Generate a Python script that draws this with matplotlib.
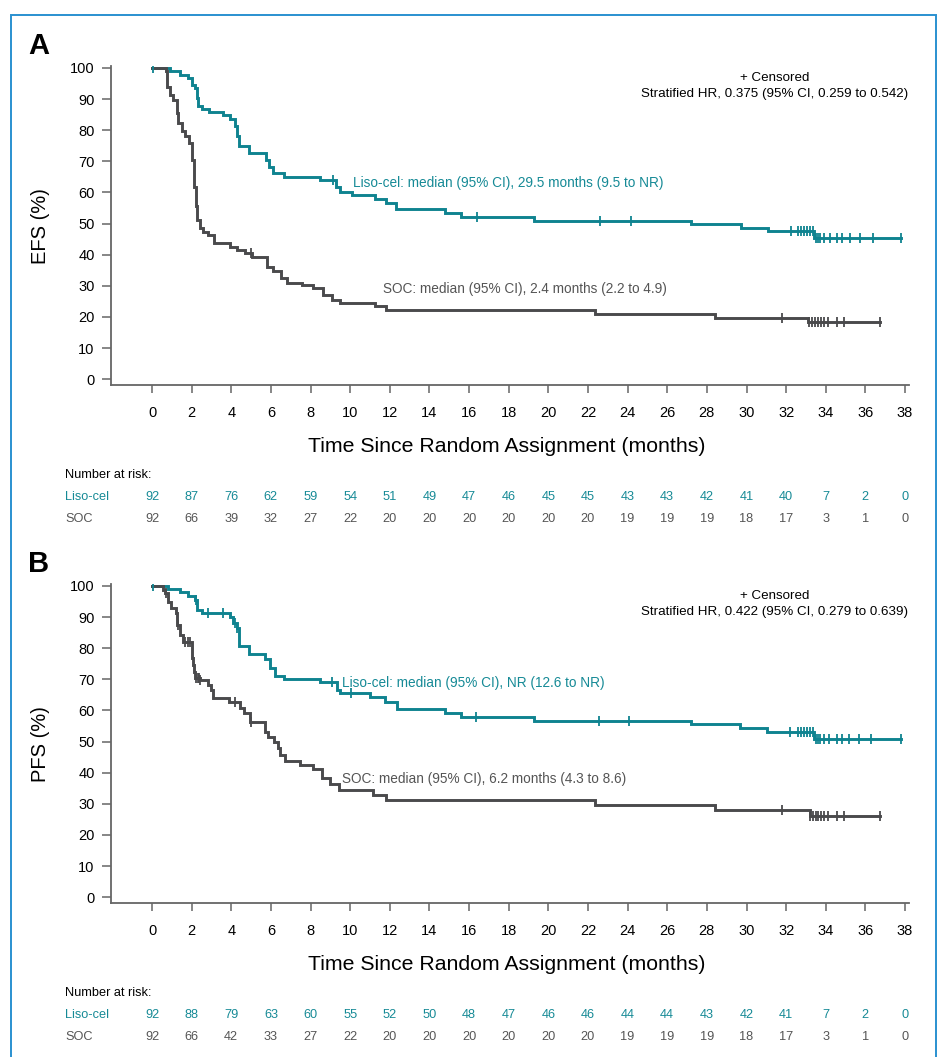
"""Kaplan-Meier style EFS / PFS panels with number-at-risk tables."""
import numpy as np
import matplotlib
matplotlib.use("Agg")
import matplotlib.pyplot as plt
from matplotlib import font_manager
from matplotlib.patches import Rectangle
from matplotlib.transforms import blended_transform_factory

_names = {f.name for f in font_manager.fontManager.ttflist}
SANS = "Liberation Sans" if "Liberation Sans" in _names else "DejaVu Sans"
plt.rcParams["font.family"] = [SANS, "DejaVu Sans"]

TEAL = "#0f8390"
TEAL_TXT = "#168a96"
GREY = "#4a4a4c"
GREY_TXT = "#555555"
AXIS = "#666666"
BORDER = "#2a90d0"

# ---- data ----
risk_times = list(range(0, 39, 2))

# Panel A: EFS
efs_liso_t = [0, 0.9, 1.4, 1.83, 2.0, 2.17, 2.25, 2.34, 2.54, 2.87, 3.6, 3.93, 4.18, 4.3,
              4.4, 4.9, 5.73, 5.9, 6.1, 6.65, 8.47, 9.3, 9.48, 10.07, 11.24, 11.83, 12.3,
              14.8, 15.6, 19.28, 27.21, 29.72, 31.08, 33.4]
efs_liso_s = [100, 98.9, 97.8, 96.8, 94.6, 93.5, 90.3, 87.9, 86.9, 85.8, 84.8, 83.7, 81.2, 78.0,
              74.8, 72.6, 70.5, 68.3, 66.2, 65.1, 63.9, 61.9, 60.3, 59.2, 57.9, 56.5, 54.7,
              53.3, 52.2, 50.9, 50.0, 48.7, 47.5, 45.3]
efs_liso_cens = [0.05, 9.14, 16.39, 22.59, 24.15, 32.27, 32.6, 32.75, 32.9, 33.05, 33.2, 33.35,
                 33.5, 33.62, 33.72, 33.89, 34.23, 34.56, 34.82, 35.21, 35.72, 36.4, 37.79]

efs_soc_t = [0, 0.69, 0.74, 0.91, 1.08, 1.24, 1.33, 1.5, 1.66, 1.87, 2.0, 2.12, 2.2, 2.29,
             2.42, 2.59, 2.84, 3.14, 3.93, 4.27, 4.69, 5.03, 5.78, 6.1, 6.52, 6.79, 7.55,
             8.13, 8.64, 9.06, 9.48, 11.24, 11.83, 22.33, 28.42, 33.12]
efs_soc_s = [100, 98.9, 93.9, 91.4, 89.8, 85.5, 82.3, 79.6, 78.0, 75.9, 70.5, 61.9, 55.5, 51.2,
             48.5, 47.4, 46.4, 43.7, 42.6, 41.5, 40.5, 39.2, 36.2, 34.9, 32.4, 31.0, 30.3,
             29.2, 27.0, 25.6, 24.4, 23.5, 22.2, 20.9, 19.7, 18.4]
efs_soc_cens = [4.99, 31.8, 33.15, 33.3, 33.45, 33.6, 33.75, 33.9, 34.1, 34.56, 34.9, 36.74]

efs_liso_risk = [92, 87, 76, 62, 59, 54, 51, 49, 47, 46, 45, 45, 43, 43, 42, 41, 40, 7, 2, 0]
efs_soc_risk = [92, 66, 39, 32, 27, 22, 20, 20, 20, 20, 20, 20, 19, 19, 19, 18, 17, 3, 1, 0]

# Panel B: PFS
pfs_liso_t = [0, 0.82, 1.41, 1.83, 2.17, 2.29, 2.54, 3.93, 4.1, 4.27, 4.39, 4.9, 5.7, 5.95,
              6.2, 6.65, 8.47, 9.32, 9.49, 11.0, 11.75, 12.34, 14.8, 15.6, 19.28, 27.19,
              29.69, 31.05, 33.4]
pfs_liso_s = [100, 98.9, 97.9, 96.8, 95.5, 92.3, 91.2, 90.1, 88.0, 86.4, 80.7, 78.2, 76.4, 73.6,
              71.1, 70.1, 69.0, 66.6, 65.5, 64.2, 62.8, 60.5, 59.1, 58.0, 56.6, 55.6,
              54.3, 53.0, 50.9]
pfs_liso_cens = [0.05, 2.2, 2.84, 3.6, 4.19, 4.3, 9.07, 10.04, 16.36, 22.54, 24.08, 32.19, 32.6,
                 32.75, 32.9, 33.05, 33.2, 33.35, 33.5, 33.62, 33.72, 33.89, 34.17, 34.56,
                 34.82, 35.16, 35.7, 36.3, 37.79]

pfs_soc_t = [0, 0.57, 0.66, 0.82, 0.96, 1.19, 1.27, 1.41, 1.58, 2.0, 2.08, 2.12, 2.17, 2.42,
             2.84, 2.96, 3.1, 3.9, 4.44, 4.66, 4.94, 5.7, 5.84, 6.17, 6.34, 6.46, 6.71,
             7.47, 8.11, 8.56, 8.98, 9.43, 11.16, 11.8, 22.33, 28.42, 33.2]
pfs_soc_s = [100, 98.7, 97.6, 95.0, 92.8, 91.2, 87.5, 84.3, 82.1, 76.8, 74.6, 72.5, 70.3, 69.8,
             68.2, 66.6, 63.9, 62.8, 60.7, 59.3, 56.4, 53.2, 51.4, 49.7, 47.9, 45.7, 43.9,
             42.5, 41.1, 38.2, 36.3, 34.5, 32.9, 31.3, 29.7, 28.1, 26.2]
pfs_soc_cens = [0.7, 1.33, 1.66, 1.83, 1.92, 2.22, 2.3, 2.36, 2.42, 4.19, 4.99, 31.8, 33.2,
                33.35, 33.5, 33.62, 33.75, 33.9, 34.1, 34.56, 34.9, 36.74]

pfs_liso_risk = [92, 88, 79, 63, 60, 55, 52, 50, 48, 47, 46, 46, 44, 44, 43, 42, 41, 7, 2, 0]
pfs_soc_risk = [92, 66, 42, 33, 27, 22, 20, 20, 20, 20, 20, 20, 19, 19, 19, 18, 17, 3, 1, 0]

W, H = 945, 1057
fig = plt.figure(figsize=(W / 100, H / 100), dpi=100)


def fy(px):
    return 1 - px / H


def km(ax, t, s, cens, color):
    t = np.asarray(t, float)
    s = np.asarray(s, float)
    cens = np.asarray(cens, float)
    end = max(t[-1], cens.max())
    ax.step(np.append(t, end), np.append(s, s[-1]), where="post",
            color=color, lw=2.1, solid_joinstyle="miter", zorder=3)
    cy = s[np.searchsorted(t, cens, side="right") - 1]
    ax.plot(cens, cy, ls="none", marker="|", ms=6.5, mew=1.3, color=color, zorder=4)


def panel(top_px, letter, ylab, liso, soc, liso_txt, soc_txt, hr_txt, risk_l, risk_s):
    bottom_px = top_px + 319.0
    ax = fig.add_axes([111 / W, fy(bottom_px), 798 / W, 319.0 / H])
    ax.set_xlim(-2.07, 38.2)
    ax.set_ylim(-2, 100.5)
    km(ax, *liso, TEAL)
    km(ax, *soc, GREY)

    for sp in ("top", "right"):
        ax.spines[sp].set_visible(False)
    for sp in ("left", "bottom"):
        ax.spines[sp].set_color(AXIS)
        ax.spines[sp].set_linewidth(1.3)
    ax.set_xticks(risk_times)
    ax.set_yticks(range(0, 101, 10))
    ax.tick_params(axis="x", length=6, width=1.1, color=AXIS, pad=9, labelsize=10.5)
    ax.tick_params(axis="y", length=6.7, width=1.1, color=AXIS, pad=5, labelsize=10.5)
    ax.set_ylabel(ylab, fontsize=14.5)
    ax.yaxis.set_label_coords(-0.077, 0.5)

    ax.text(liso_txt[0], liso_txt[1], liso_txt[2], color=TEAL_TXT, fontsize=9.8,
            va="center", ha="left")
    ax.text(soc_txt[0], soc_txt[1], soc_txt[2], color=GREY_TXT, fontsize=9.8,
            va="center", ha="left")

    # header text and annotations (offsets relative to the axes top)
    off = top_px - 66.4
    fig.text(28 / W, fy(46 + off), letter, fontsize=21, fontweight="bold", va="center")
    fig.text(775 / W, fy(78 + off), "+ Censored", fontsize=9.6, ha="center", va="center")
    fig.text(775 / W, fy(94.5 + off), hr_txt, fontsize=9.6, ha="center", va="center")
    fig.text(507 / W, fy(446 + off), "Time Since Random Assignment (months)",
             fontsize=15.3, ha="center", va="center")

    tr = blended_transform_factory(ax.transData, fig.transFigure)
    fig.text(65 / W, fy(475 + off), "Number at risk:", fontsize=9.2, va="center")
    fig.text(65 / W, fy(497 + off), "Liso-cel", fontsize=9.2, va="center", color=TEAL_TXT)
    fig.text(65 / W, fy(519 + off), "SOC", fontsize=9.2, va="center", color=GREY_TXT)
    for x, a, b in zip(risk_times, risk_l, risk_s):
        ax.text(x, fy(497 + off), str(a), transform=tr, fontsize=9.2, ha="center",
                va="center", color=TEAL_TXT)
        ax.text(x, fy(519 + off), str(b), transform=tr, fontsize=9.2, ha="center",
                va="center", color=GREY_TXT)
    return ax


panel(66.4, "A", "EFS (%)",
      (efs_liso_t, efs_liso_s, efs_liso_cens), (efs_soc_t, efs_soc_s, efs_soc_cens),
      (10.14, 63.0, "Liso-cel: median (95% CI), 29.5 months (9.5 to NR)"),
      (11.65, 29.0, "SOC: median (95% CI), 2.4 months (2.2 to 4.9)"),
      "Stratified HR, 0.375 (95% CI, 0.259 to 0.542)",
      efs_liso_risk, efs_soc_risk)

panel(584.4, "B", "PFS (%)",
      (pfs_liso_t, pfs_liso_s, pfs_liso_cens), (pfs_soc_t, pfs_soc_s, pfs_soc_cens),
      (9.59, 68.9, "Liso-cel: median (95% CI), NR (12.6 to NR)"),
      (9.59, 37.9, "SOC: median (95% CI), 6.2 months (4.3 to 8.6)"),
      "Stratified HR, 0.422 (95% CI, 0.279 to 0.639)",
      pfs_liso_risk, pfs_soc_risk)

# outer frame
fig.patches.append(Rectangle((10.5 / W, fy(1070)), (936 - 10.5) / W, (1070 - 15) / H,
                             transform=fig.transFigure, fill=False, ec=BORDER, lw=1.4))

fig.savefig("out.png", dpi=100)
